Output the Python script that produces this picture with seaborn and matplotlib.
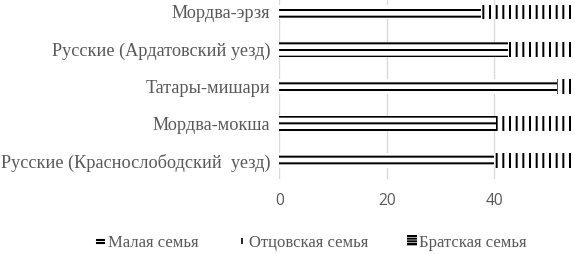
import matplotlib
matplotlib.use("Agg")
import matplotlib.pyplot as plt
import seaborn as sns
import pandas as pd
import numpy as np
from matplotlib.lines import Line2D
from matplotlib.patches import Patch

categories = ["Мордва-эрзя", "Русские (Ардатовский уезд)", "Татары-мишари",
              "Мордва-мокша", "Русские (Краснослободский  уезд)"]
malaya = [37.6, 42.6, 51.6, 40.3, 39.9]
otcovskaya = [40.0, 35.0, 30.0, 38.0, 40.0]
bratskaya = [22.4, 22.4, 18.4, 21.7, 20.1]
series_names = ["Малая семья", "Отцовская семья", "Братская семья"]

sns.set_theme(style="white")
plt.rcParams["hatch.linewidth"] = 1.8
plt.rcParams["font.family"] = ["Liberation Serif", "DejaVu Sans"]

DPI = 80
fig = plt.figure(figsize=(575 / DPI, 254 / DPI), dpi=DPI)
fig.patch.set_facecolor("white")
ax = fig.add_axes([279.3 / 575, 1 - 179.3 / 254, 1 - 279.3 / 575, (179.3 + 6.6) / 254])

df = pd.DataFrame({
    "cat": categories,
    "m": malaya,
    "mo": np.array(malaya) + np.array(otcovskaya),
    "mob": np.array(malaya) + np.array(otcovskaya) + np.array(bratskaya),
})

common = dict(ax=ax, orient="y", width=0.4, color="white", edgecolor="black",
              linewidth=0, order=categories)
sns.barplot(data=df, x="mob", y="cat", hatch="----", **common)
sns.barplot(data=df, x="mo", y="cat", hatch="||", **common)
sns.barplot(data=df, x="m", y="cat", hatch="--", **common)

ax.set_xlim(0, 55)
ax.set_ylim(4.5, -0.5)
ax.set_xticks([0, 20, 40])
ax.set_xlabel("")
ax.set_ylabel("")
for s in ax.spines.values():
    s.set_visible(False)
ax.grid(axis="x", color="#d9d9d9", linewidth=1.2)
ax.set_axisbelow(True)
ax.tick_params(axis="both", length=0)
ax.tick_params(axis="x", pad=12)
ax.tick_params(axis="y", pad=8)
for lab in ax.get_xticklabels():
    lab.set_fontfamily(["Open Sans", "DejaVu Sans"])
    lab.set_fontsize(14)
    lab.set_color("#595959")
for lab in ax.get_yticklabels():
    lab.set_fontsize(16.4)
    lab.set_color("#595959")

handles = [
    Line2D([], [], linestyle="none", marker=r"$=$", markersize=8, color="black"),
    Line2D([], [], linestyle="none", marker="|", markersize=6, markeredgewidth=1.5, color="black"),
    Patch(facecolor="white", edgecolor="black", linewidth=0, hatch="-----"),
]
leg = fig.legend(handles, series_names, loc="center", bbox_to_anchor=(0.541, 0.045),
                 ncol=3, frameon=False, fontsize=15, handlelength=0.6, handleheight=0.6,
                 handletextpad=0.15, columnspacing=2.3, borderaxespad=0)
for t in leg.get_texts():
    t.set_color("#595959")

fig.savefig("out.png", dpi=DPI, facecolor="white")
